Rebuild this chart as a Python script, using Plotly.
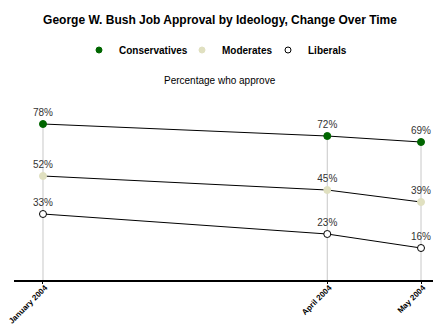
import plotly.graph_objects as go

dates = ["2004-01-15", "2004-04-15", "2004-05-15"]
tick_labels = ["January 2004", "April 2004", "May 2004"]
series_names = ["Conservatives", "Moderates", "Liberals"]
conservatives = [78, 72, 69]
moderates = [52, 45, 39]
liberals = [33, 23, 16]

series_values = [conservatives, moderates, liberals]
fills = ["#006600", "#E0E0C0", "#FFFFFF"]
outlines = ["#006600", "#E0E0C0", "#000000"]

FONT = "Liberation Sans, Arial, sans-serif"
W, H = 440, 325

fig = go.Figure()

# drop lines from each poll's highest value to the axis
tops = [max(v[i] for v in series_values) for i in range(len(dates))]
gx, gy = [], []
for d, t in zip(dates, tops):
    gx += [d, d, None]
    gy += [0, t, None]
fig.add_trace(go.Scatter(x=gx, y=gy, mode="lines", line=dict(color="#C8C8C8", width=1),
                         hoverinfo="skip", showlegend=False))

for name, vals, fc, oc in zip(series_names, series_values, fills, outlines):
    fig.add_trace(go.Scatter(
        x=dates, y=vals, name=name, mode="lines+markers+text",
        text=[f"{v}%" for v in vals], textposition="top center",
        textfont=dict(family=FONT, size=10, color="#333333"),
        line=dict(color="#000000", width=1),
        marker=dict(size=7, color=fc, line=dict(color=oc, width=1)),
        cliponaxis=False, showlegend=False,
    ))

# legend entries (markers only, as in the original key), one legend box per entry
legend_ids = ["legend", "legend2", "legend3"]
legend_left = [79, 182, 268]
for name, fc, oc, lid in zip(series_names, fills, outlines, legend_ids):
    fig.add_trace(go.Scatter(
        x=[None], y=[None], name=name, mode="markers", legend=lid,
        marker=dict(size=6, color=fc, line=dict(color=oc, width=1)),
    ))

legend_layout = {}
for lid, lx in zip(legend_ids, legend_left):
    legend_layout[lid] = dict(
        orientation="h", x=lx / W, xref="container", xanchor="left",
        y=1 - 50 / H, yref="container", yanchor="middle",
        font=dict(family=FONT, size=10, color="#000000", weight="bold"),
        itemwidth=30, bgcolor="rgba(0,0,0,0)",
    )

fig.update_layout(
    width=W, height=H,
    margin=dict(l=14, r=7, t=110, b=45, autoexpand=False),
    paper_bgcolor="white", plot_bgcolor="white",
    font=dict(family=FONT, size=10, color="#000000"),
    title=dict(text="<b>George W. Bush Job Approval by Ideology, Change Over Time</b>",
               x=0.5, xref="container", y=1 - 20 / H, yref="container",
               xanchor="center", yanchor="middle",
               font=dict(family=FONT, size=12, color="#000000")),
    showlegend=True,
    annotations=[dict(text="Percentage who approve", xref="paper", yref="paper",
                      x=(220 - 14) / 419, y=(280 - 80) / 170, showarrow=False,
                      xanchor="center", yanchor="middle",
                      font=dict(family=FONT, size=10, color="#000000"))],
    **legend_layout,
)

fig.update_xaxes(
    type="date", range=["2004-01-05 17:17", "2004-05-18 20:10"], automargin=False,
    tickvals=dates, ticktext=[f"<b>{t}</b>" for t in tick_labels], tickangle=-45,
    tickfont=dict(family=FONT, size=8, color="#000000"),
    ticklabelstandoff=-4, ticklabelshift=2,
    showgrid=False, zeroline=False, showline=True, linecolor="#000000", linewidth=2,
    ticks="outside", ticklen=2, tickcolor="#000000", tickwidth=1,
)
fig.update_yaxes(range=[0, 85], visible=False, showgrid=False, zeroline=False, automargin=False)

fig.write_html("out.html")
